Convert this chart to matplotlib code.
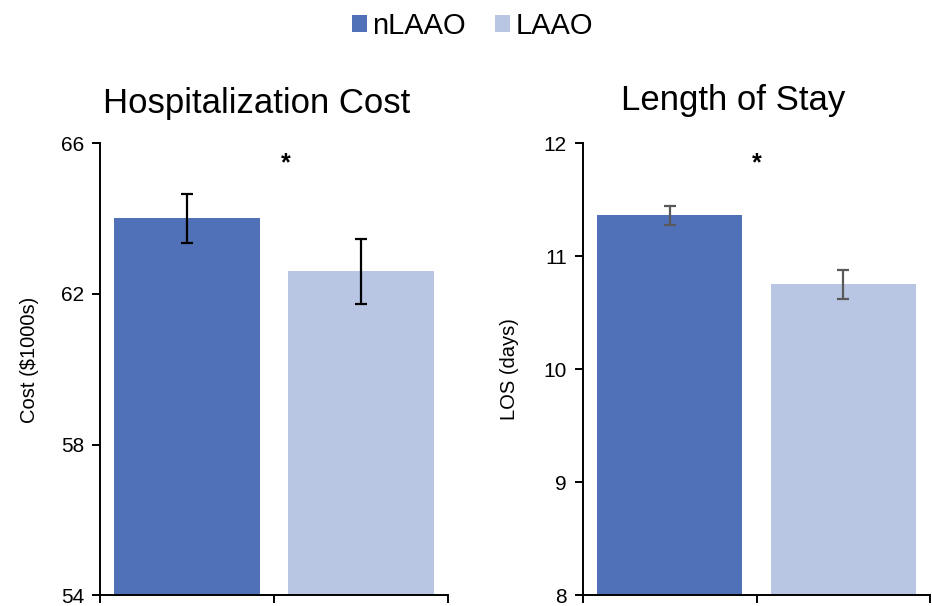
import matplotlib
matplotlib.use("Agg")
import matplotlib.pyplot as plt
from matplotlib.patches import Patch

plt.rcParams['font.family'] = ['Liberation Sans', 'DejaVu Sans']

groups = ["nLAAO", "LAAO"]
colors = ["#5070B7", "#B8C6E3"]

cost_vals = [64.0, 62.6]
cost_err = [0.65, 0.86]
cost_ticks = [54, 58, 62, 66]

los_vals = [11.36, 10.75]
los_err = [0.085, 0.13]
los_ticks = [8, 9, 10, 11, 12]

fig = plt.figure(figsize=(9.32, 6.06), dpi=100)
ax1 = fig.add_axes([0.1073, 0.0175, 0.3734, 0.7465])
ax2 = fig.add_axes([0.6255, 0.0175, 0.3724, 0.7465])

def draw(ax, vals, errs, ticks, title, ylabel, ecolor, star_x, title_x, title_pad, ylab_x, ylab_y):
    x = list(range(len(vals)))
    ax.bar(x, vals, width=0.835, color=colors, yerr=errs,
           error_kw=dict(ecolor=ecolor, elinewidth=1.6, capsize=4.5, capthick=1.6),
           zorder=2)
    ax.set_xlim(-0.5, 1.5)
    ax.set_ylim(ticks[0], ticks[-1])
    ax.set_yticks(ticks)
    ax.set_xticks([-0.5, 0.5, 1.5])
    ax.set_xticklabels([])
    for s in ["top", "right"]:
        ax.spines[s].set_visible(False)
    for s in ["left", "bottom"]:
        ax.spines[s].set_linewidth(1.4)
        ax.spines[s].set_color("black")
    ax.tick_params(axis='both', direction='out', length=6, width=1.4, labelsize=15, colors='black')
    ax.tick_params(axis='y', pad=5.5)
    ax.set_title(title, fontsize=25, pad=title_pad, x=title_x)
    ax.set_ylabel(ylabel, fontsize=14.5)
    ax.yaxis.set_label_coords(ylab_x, ylab_y)
    ax.text(star_x, 0.955, "*", transform=ax.transAxes,
            ha='center', va='center', fontsize=18, fontweight='bold')

draw(ax1, cost_vals, cost_err, cost_ticks, "Hospitalization Cost", "Cost ($1000s)", "black",
     0.535, 0.451, 21.5, -0.175, 0.52)
draw(ax2, los_vals, los_err, los_ticks, "Length of Stay", "LOS (days)", "#595959",
     0.5, 0.432, 24, -0.185, 0.5)

handles = [Patch(facecolor=c, edgecolor='none') for c in colors]
fig.legend(handles, groups, loc='center', bbox_to_anchor=(0.507, 0.957), ncol=2,
           frameon=False, fontsize=21, handlelength=0.5, handleheight=0.5,
           handletextpad=0.2, columnspacing=1.0)

fig.savefig("out.png", dpi=100)
